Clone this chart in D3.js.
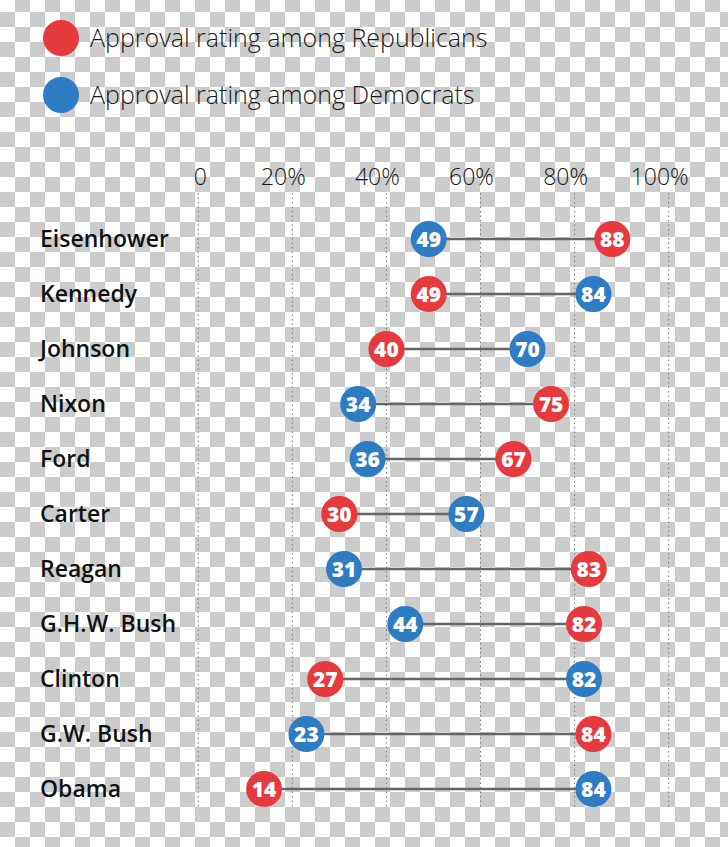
<!DOCTYPE html>
<html>
<head>
<meta charset="utf-8">
<script src="https://cdn.jsdelivr.net/npm/d3@7"></script>
<style>
  html, body { margin: 0; padding: 0; background: #fff; }
  svg { display: block; }
</style>
</head>
<body>
<script>
const presidents = ["Eisenhower","Kennedy","Johnson","Nixon","Ford","Carter","Reagan","G.H.W. Bush","Clinton","G.W. Bush","Obama"];
const republicans = [88,49,40,75,67,30,83,82,27,84,14];
const democrats   = [49,84,70,34,36,57,31,44,82,23,84];
const tickValues = [0,20,40,60,80,100];
const tickLabels = ["0","20%","40%","60%","80%","100%"];
const legendLabels = ["Approval rating among Republicans","Approval rating among Democrats"];

const W = 728, H = 847;
const RED = "#e63a3f", BLUE = "#2e7cc4";
const LIGHT = "'Open Sans', Lato, sans-serif";

const svg = d3.select("body").append("svg").attr("width", W).attr("height", H);

// transparent-background checkerboard
const defs = svg.append("defs");
const pat = defs.append("pattern").attr("id","checker").attr("patternUnits","userSpaceOnUse")
  .attr("x",0).attr("y",-3).attr("width",30).attr("height",30);
pat.append("rect").attr("width",30).attr("height",30).attr("fill","#ffffff");
pat.append("rect").attr("x",15).attr("y",0).attr("width",15).attr("height",15).attr("fill","#cccccc");
pat.append("rect").attr("x",0).attr("y",15).attr("width",15).attr("height",15).attr("fill","#cccccc");
svg.append("rect").attr("width",W).attr("height",H).attr("fill","url(#checker)");

const x = d3.scaleLinear().domain([0,100]).range([198.2, 668.7]);
const y = d3.scalePoint().domain(presidents).range([239, 789]);

// legend
const legend = svg.append("g");
[RED, BLUE].forEach((c,i) => {
  const g = legend.append("g").attr("transform", `translate(0,${38 + i*57})`);
  g.append("circle").attr("cx",61).attr("cy",0).attr("r",18).attr("fill",c);
  g.append("text").attr("x",90).attr("y",9)
    .attr("font-family",LIGHT).attr("font-weight",300)
    .attr("font-size",25).attr("fill","#1a1a1a").text(legendLabels[i]);
});

// gridlines
svg.append("g").selectAll("line").data(tickValues).join("line")
  .attr("x1", d => x(d)).attr("x2", d => x(d))
  .attr("y1", 193).attr("y2", 808)
  .attr("stroke","#7a7a7a").attr("stroke-width",1).attr("stroke-dasharray","1.5,3");

// axis labels
svg.append("g").selectAll("text").data(tickValues).join("text")
  .attr("x", (d,i) => d === 0 ? x(d) + 2 : x(d) - 9)
  .attr("y", 185).attr("text-anchor","middle")
  .attr("font-family",LIGHT).attr("font-weight",300)
  .attr("font-size",23).attr("fill","#1a1a1a")
  .text((d,i) => tickLabels[i]);

// row labels
svg.append("g").selectAll("text").data(presidents).join("text")
  .attr("x", 40).attr("y", d => y(d) + 8)
  .attr("font-family","'Open Sans', sans-serif").attr("font-weight",600)
  .attr("font-size",23).attr("fill","#111").text(d => d);

const rows = presidents.map((p,i) => ({p, r: republicans[i], d: democrats[i]}));

// connectors
svg.append("g").selectAll("line").data(rows).join("line")
  .attr("x1", d => x(Math.min(d.r,d.d))).attr("x2", d => x(Math.max(d.r,d.d)))
  .attr("y1", d => y(d.p)).attr("y2", d => y(d.p))
  .attr("stroke","#666").attr("stroke-width",2.5);

// dots
function dots(key, color) {
  const g = svg.append("g").selectAll("g").data(rows).join("g")
    .attr("transform", d => `translate(${x(d[key])},${y(d.p)})`);
  g.append("circle").attr("r",18).attr("fill",color);
  g.append("text").attr("text-anchor","middle").attr("dy","0.36em")
    .attr("font-family","'Open Sans', sans-serif").attr("font-weight",800)
    .attr("font-size",21).attr("fill","#fff").text(d => d[key]);
}
dots("r", RED);
dots("d", BLUE);
</script>
</body>
</html>
